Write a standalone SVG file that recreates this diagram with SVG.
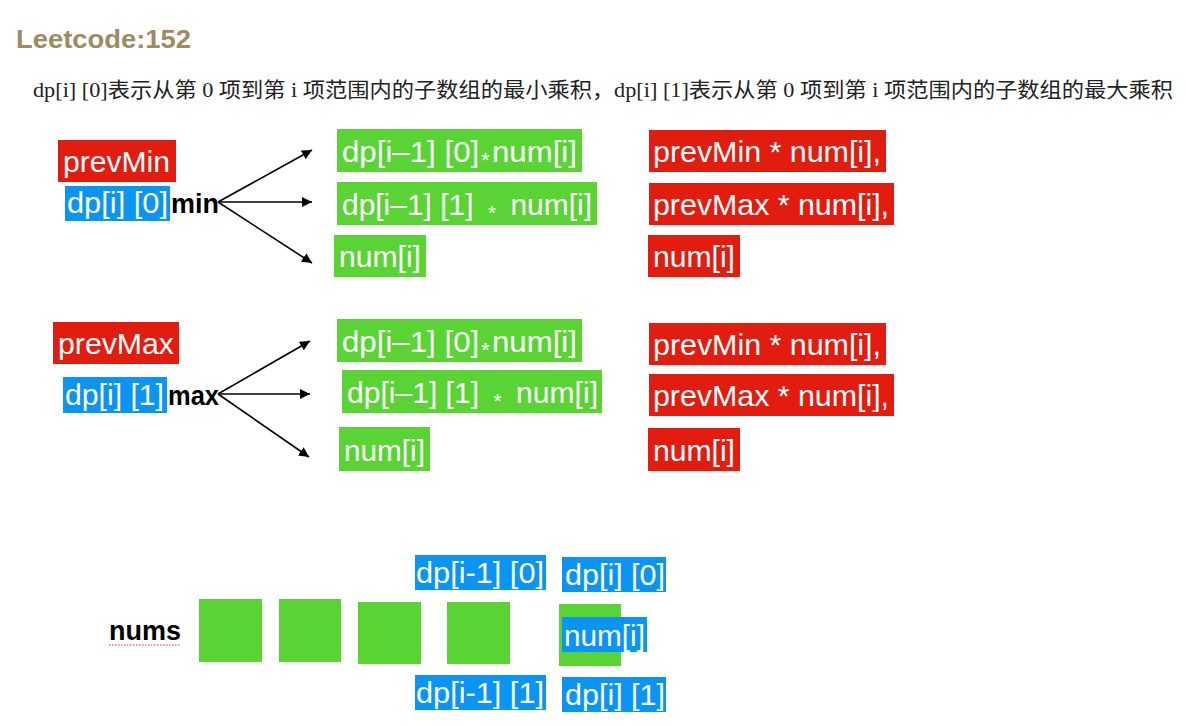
<svg xmlns="http://www.w3.org/2000/svg" width="1186" height="726" viewBox="0 0 1186 726">
<defs>
<style>
.t{font-family:"Liberation Sans",Arial,sans-serif;font-size:29px;fill:#ffffff}
.b{font-family:"Liberation Sans",Arial,sans-serif;font-size:27px;font-weight:bold;fill:#000000}
.ast{font-size:20px}
.red{fill:#e21c0f}
.grn{fill:#5ad435}
.blu{fill:#0a94f4}
.arr{stroke:#000;stroke-width:1.6;fill:none;marker-end:url(#ah)}
</style>
<marker id="ah" viewBox="0 0 10 10" refX="10" refY="5" markerWidth="10" markerHeight="10" markerUnits="userSpaceOnUse" orient="auto">
<path d="M0,0 L10,5 L0,10 z" fill="#000"/>
</marker>
</defs>
<rect width="1186" height="726" fill="#ffffff"/>
<g id="title">
<text x="16" y="48" font-family="'Liberation Sans',Arial,sans-serif" font-size="25" font-weight="bold" fill="#9f8b62" textLength="175" lengthAdjust="spacingAndGlyphs">Leetcode:152</text>
</g>
<g id="subtitle">
<text x="33" y="97" font-family="'Liberation Serif','Noto Sans CJK SC',serif" font-size="21" fill="#222" textLength="1140" lengthAdjust="spacingAndGlyphs">dp[i] [0]表示从第 0 项到第 i 项范围内的子数组的最小乘积，dp[i] [1]表示从第 0 项到第 i 项范围内的子数组的最大乘积</text>
</g>
<g id="connectors">
<line class="arr" x1="218" y1="202" x2="312" y2="150"/>
<line class="arr" x1="218" y1="202" x2="312" y2="202"/>
<line class="arr" x1="218" y1="202" x2="312" y2="263"/>
<line class="arr" x1="218" y1="394" x2="310" y2="341"/>
<line class="arr" x1="218" y1="394" x2="310" y2="394"/>
<line class="arr" x1="218" y1="394" x2="309" y2="457"/>
</g>
<g id="prevMin">
<rect class="red" x="58" y="140" width="118" height="42"/>
<text class="t" x="63" y="172" textLength="107" lengthAdjust="spacingAndGlyphs">prevMin</text>
</g>
<g id="dp0min">
<rect class="blu" x="65" y="186" width="105" height="35"/>
<text class="t" x="67" y="213" textLength="101" lengthAdjust="spacingAndGlyphs">dp[i] [0]</text>
<text class="b" x="171" y="213" textLength="48" lengthAdjust="spacingAndGlyphs">min</text>
</g>
<g id="g1a">
<rect class="grn" x="337" y="129" width="245" height="43"/>
<text class="t" x="342" y="162" textLength="235" lengthAdjust="spacingAndGlyphs">dp[i–1] [0]<tspan class="ast" dx="2" dy="5">*</tspan><tspan dx="2" dy="-5">num[i]</tspan></text>
</g>
<g id="g1b">
<rect class="grn" x="337" y="182" width="260" height="43"/>
<text class="t" x="342" y="215" textLength="250" lengthAdjust="spacingAndGlyphs">dp[i–1] [1]<tspan class="ast" dx="14" dy="5">*</tspan><tspan dx="14" dy="-5">num[i]</tspan></text>
</g>
<g id="g1c">
<rect class="grn" x="334" y="235" width="92" height="42"/>
<text class="t" x="339" y="267" textLength="82" lengthAdjust="spacingAndGlyphs">num[i]</text>
</g>
<g id="r1a">
<rect class="red" x="649" y="130" width="237" height="42"/>
<text class="t" x="653" y="162" textLength="228" lengthAdjust="spacingAndGlyphs">prevMin * num[i],</text>
</g>
<g id="r1b">
<rect class="red" x="649" y="183" width="245" height="42"/>
<text class="t" x="653" y="215" textLength="236" lengthAdjust="spacingAndGlyphs">prevMax * num[i],</text>
</g>
<g id="r1c">
<rect class="red" x="648" y="235" width="92" height="42"/>
<text class="t" x="653" y="267" textLength="82" lengthAdjust="spacingAndGlyphs">num[i]</text>
</g>
<g id="prevMax">
<rect class="red" x="53" y="322" width="126" height="42"/>
<text class="t" x="58" y="354" textLength="116" lengthAdjust="spacingAndGlyphs">prevMax</text>
</g>
<g id="dp1max">
<rect class="blu" x="63" y="377" width="104" height="36"/>
<text class="t" x="65" y="405" textLength="99" lengthAdjust="spacingAndGlyphs">dp[i] [1]</text>
<text class="b" x="168" y="405" textLength="51" lengthAdjust="spacingAndGlyphs">max</text>
</g>
<g id="g2a">
<rect class="grn" x="337" y="319" width="245" height="43"/>
<text class="t" x="342" y="352" textLength="235" lengthAdjust="spacingAndGlyphs">dp[i–1] [0]<tspan class="ast" dx="2" dy="5">*</tspan><tspan dx="2" dy="-5">num[i]</tspan></text>
</g>
<g id="g2b">
<rect class="grn" x="342" y="370" width="260" height="43"/>
<text class="t" x="347" y="403" textLength="251" lengthAdjust="spacingAndGlyphs">dp[i–1] [1]<tspan class="ast" dx="14" dy="5">*</tspan><tspan dx="14" dy="-5">num[i]</tspan></text>
</g>
<g id="g2c">
<rect class="grn" x="339" y="427" width="91" height="44"/>
<text class="t" x="344" y="461" textLength="81" lengthAdjust="spacingAndGlyphs">num[i]</text>
</g>
<g id="r2a">
<rect class="red" x="649" y="323" width="237" height="42"/>
<text class="t" x="653" y="355" textLength="228" lengthAdjust="spacingAndGlyphs">prevMin * num[i],</text>
</g>
<g id="r2b">
<rect class="red" x="649" y="374" width="245" height="42"/>
<text class="t" x="653" y="406" textLength="236" lengthAdjust="spacingAndGlyphs">prevMax * num[i],</text>
</g>
<g id="r2c">
<rect class="red" x="648" y="428" width="92" height="43"/>
<text class="t" x="653" y="461" textLength="82" lengthAdjust="spacingAndGlyphs">num[i]</text>
</g>
<g id="nums">
<text class="b" x="109" y="640" textLength="72" lengthAdjust="spacingAndGlyphs">nums</text>
<line x1="109" y1="645" x2="181" y2="645" stroke="#e03030" stroke-width="1.2" stroke-dasharray="1.5,1.5"/>
</g>
<g id="cells">
<rect class="grn" x="199" y="599" width="63" height="63"/>
<rect class="grn" x="279" y="599" width="62" height="63"/>
<rect class="grn" x="358" y="602" width="63" height="62"/>
<rect class="grn" x="447" y="602" width="63" height="62"/>
<rect class="grn" x="559" y="604" width="62" height="62"/>
</g>
<g id="numi">
<rect class="blu" x="562" y="617" width="85" height="35"/>
<text class="t" x="564" y="646" textLength="81" lengthAdjust="spacingAndGlyphs">num[i]</text>
</g>
<g id="dpim1_0">
<rect class="blu" x="415" y="555" width="131" height="35"/>
<text class="t" x="416" y="583" textLength="128" lengthAdjust="spacingAndGlyphs">dp[i-1] [0]</text>
</g>
<g id="dpi_0">
<rect class="blu" x="562" y="557" width="104" height="35"/>
<text class="t" x="565" y="585" textLength="100" lengthAdjust="spacingAndGlyphs">dp[i] [0]</text>
</g>
<g id="dpim1_1">
<rect class="blu" x="415" y="675" width="131" height="35"/>
<text class="t" x="416" y="703" textLength="128" lengthAdjust="spacingAndGlyphs">dp[i-1] [1]</text>
</g>
<g id="dpi_1">
<rect class="blu" x="562" y="677" width="104" height="35"/>
<text class="t" x="565" y="705" textLength="100" lengthAdjust="spacingAndGlyphs">dp[i] [1]</text>
</g>
</svg>
